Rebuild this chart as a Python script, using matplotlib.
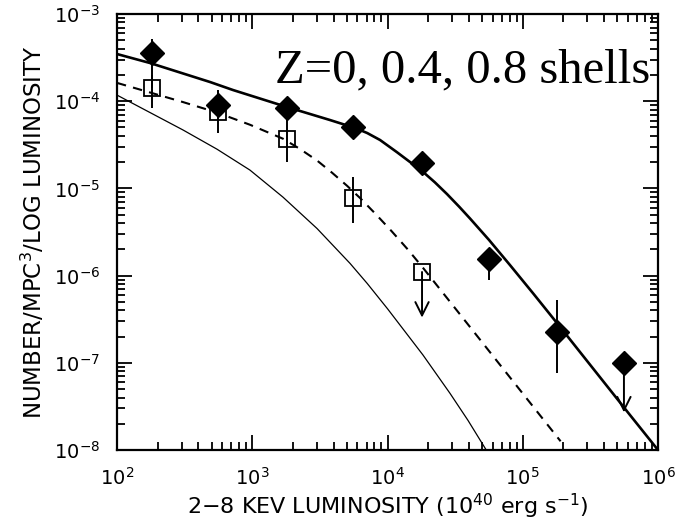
import numpy as np
import matplotlib.pyplot as plt
from matplotlib.ticker import LogLocator, NullFormatter

# model curves as (log10 L, log10 phi)
thick_logL = [2.000, 2.244, 2.688, 2.858, 3.257, 3.575, 3.760, 3.850, 3.945,
              4.070, 4.160, 4.255, 4.350, 4.440, 4.530, 4.610, 4.750, 4.906,
              5.080, 5.253, 5.793, 6.000]
thick_logphi = [-3.459, -3.562, -3.780, -3.872, -4.067, -4.216, -4.307, -4.365,
                -4.445, -4.585, -4.690, -4.800, -4.930, -5.065, -5.210, -5.345,
                -5.590, -5.880, -6.210, -6.544, -7.599, -8.000]

dash_logL = [2.000, 2.244, 2.488, 2.739, 2.983, 3.227, 3.350, 3.479, 3.590,
             3.701, 3.797, 3.910, 4.030, 4.150, 4.262, 4.462, 4.595, 5.280]
dash_logphi = [-3.790, -3.900, -4.010, -4.130, -4.270, -4.430, -4.545, -4.680,
               -4.820, -4.970, -5.110, -5.290, -5.490, -5.700, -5.910, -6.300,
               -6.560, -7.900]

thin_logL = [2.000, 2.244, 2.488, 2.739, 2.983, 3.227, 3.479, 3.723, 3.850,
             4.000, 4.262, 4.462, 4.595, 4.730]
thin_logphi = [-3.930, -4.130, -4.330, -4.550, -4.790, -5.100, -5.460, -5.860,
               -6.090, -6.380, -6.910, -7.350, -7.660, -8.000]

# data points
lum = [180, 560, 1800, 5600, 18000, 56000, 180000, 560000]
dia_phi = [3.6e-4, 9.0e-5, 8.4e-5, 5.0e-5, 1.95e-5, 1.55e-6, 2.25e-7, 1.0e-7]
dia_hi = [5.2e-4, 1.34e-4, 8.4e-5, 5.0e-5, 1.95e-5, 2.1e-6, 5.2e-7, 1.0e-7]
dia_lo = [1.4e-4, 4.3e-5, 8.4e-5, 5.0e-5, 1.95e-5, 8.9e-7, 7.6e-8, 1.0e-7]
dia_limit = 2.7e-8   # upper limit arrow for the last diamond

sq_lum = lum[:5]
sq_phi = [1.42e-4, 7.5e-5, 3.7e-5, 7.8e-6, 1.1e-6]
sq_hi = [2.0e-4, 7.5e-5, 8.9e-5, 1.35e-5, 1.1e-6]
sq_lo = [8.4e-5, 7.5e-5, 2.0e-5, 4.0e-6, 1.1e-6]
sq_limit = 3.3e-7

fig = plt.figure(figsize=(6.94, 5.25), dpi=100)
ax = fig.add_axes([117/694, 1 - 450/525, 541/694, 436/525])

ax.plot(10**np.array(thick_logL), 10**np.array(thick_logphi), color="black", lw=1.9)
ax.plot(10**np.array(dash_logL), 10**np.array(dash_logphi), color="black", lw=1.5,
        linestyle=(0, (4.5, 3.5)))
ax.plot(10**np.array(thin_logL), 10**np.array(thin_logphi), color="black", lw=0.9)

# error bars
ax.vlines(lum, dia_lo, dia_hi, color="black", lw=1.4)
ax.vlines(sq_lum, sq_lo, sq_hi, color="black", lw=1.4)

# upper limits
for x, y0, y1 in [(lum[-1], dia_phi[-1], dia_limit), (sq_lum[-1], sq_phi[-1], sq_limit)]:
    ax.annotate("", xy=(x, y1), xytext=(x, y0),
                arrowprops=dict(arrowstyle="->", color="black", lw=1.4,
                                mutation_scale=24, shrinkA=0, shrinkB=0))

ax.plot(lum, dia_phi, "D", color="black", ms=12, ls="none")
ax.plot(sq_lum, sq_phi, "s", mfc="none", mec="black", mew=1.3, ms=11, ls="none")

ax.set_xscale("log")
ax.set_yscale("log")
ax.set_xlim(1e2, 1e6)
ax.set_ylim(1e-8, 1e-3)

ax.xaxis.set_major_locator(LogLocator(base=10, numticks=10))
ax.xaxis.set_minor_locator(LogLocator(base=10, subs=np.arange(2, 10), numticks=10))
ax.yaxis.set_minor_locator(LogLocator(base=10, subs=np.arange(2, 10), numticks=10))
ax.xaxis.set_minor_formatter(NullFormatter())
ax.yaxis.set_minor_formatter(NullFormatter())

ax.tick_params(which="both", direction="in", top=True, right=True, width=1.3,
               labelsize=14, color="black")
ax.tick_params(which="major", length=11, pad=12)
ax.tick_params(which="minor", length=6)
for s in ax.spines.values():
    s.set_linewidth(1.6)

ax.set_xlabel("2\u22128 KEV LUMINOSITY (10$^{40}$ erg s$^{-1}$)", fontsize=16, labelpad=2)
ax.set_ylabel("NUMBER/MPC$^3$/LOG LUMINOSITY", fontsize=16.5, labelpad=5)

ax.text(0.985, 0.844, "Z=0, 0.4, 0.8 shells", transform=ax.transAxes,
        ha="right", va="baseline", fontsize=35, family="Liberation Serif")

fig.savefig("out.png", dpi=100)
